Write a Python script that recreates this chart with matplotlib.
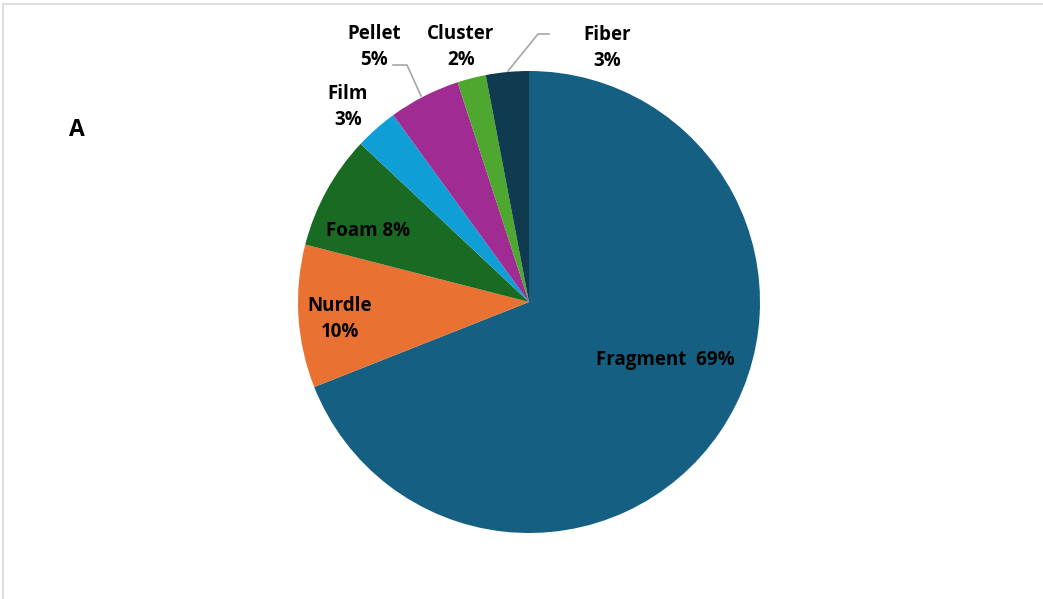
import matplotlib.pyplot as plt
from matplotlib.lines import Line2D

plt.rcParams['font.family'] = ['Open Sans', 'DejaVu Sans']

categories = ['Fragment', 'Nurdle', 'Foam', 'Film', 'Pellet', 'Cluster', 'Fiber']
shares = [69, 10, 8, 3, 5, 2, 3]
colors = ['#156082', '#E97132', '#196B24', '#0F9ED5', '#A02B93', '#4EA72E', '#0F3A50']

W, H = 1043, 599
fig = plt.figure(figsize=(W / 100, H / 100), dpi=100)

# pie box in pixels: centre (529, 302), radius 231
cx, cy, r = 529, 302, 231
ax = fig.add_axes([(cx - r) / W, 1 - (cy + r) / H, 2 * r / W, 2 * r / H])
ax.pie(shares, colors=colors, startangle=90, counterclock=False, radius=1,
       wedgeprops=dict(linewidth=0))
ax.set_xlim(-1, 1)
ax.set_ylim(-1, 1)
ax.set_aspect('equal')
ax.axis('off')


def px(x, y):
    # pixel position -> pie data coords
    return (x - cx) / r, (cy - y) / r


labels = [f'{c}  {v}%' if c == 'Fragment' else
          (f'{c} {v}%' if c == 'Foam' else f'{c}\n{v}%')
          for c, v in zip(categories, shares)]
label_pos = [(665, 360), (340, 319), (368, 231), (348, 107), (374, 47), (461, 47), (607, 48)]

for lab, (x, y) in zip(labels, label_pos):
    ax.text(*px(x, y), lab, ha='center', va='center', fontsize=13.5,
            fontweight='bold', color='black', linespacing=1.42, clip_on=False)

# leader lines for the two small outer labels
lead = dict(color='#a6a6a6', linewidth=1.2, clip_on=False)
pts = [px(393, 65), px(407, 65), px(421, 96)]
ax.plot([p[0] for p in pts], [p[1] for p in pts], **lead)
pts = [px(549, 34), px(538, 34), px(508, 71)]
ax.plot([p[0] for p in pts], [p[1] for p in pts], **lead)

fig.text(77 / W, 1 - 130 / H, 'A', ha='center', va='center', fontsize=16.5,
         fontweight='bold')

# chart frame edges
fig.add_artist(Line2D([2.5 / W, 1], [1 - 4 / H, 1 - 4 / H], color='#d9d9d9', linewidth=1.2))
fig.add_artist(Line2D([2.5 / W, 2.5 / W], [0, 1 - 4 / H], color='#d9d9d9', linewidth=1.2))

fig.savefig('out.png', dpi=100)
